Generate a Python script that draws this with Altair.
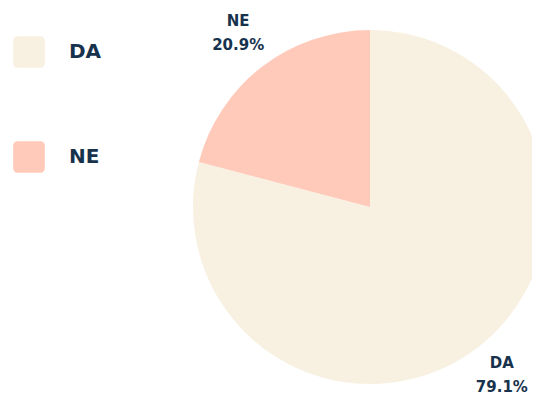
import altair as alt
import pandas as pd

categories = ["DA", "NE"]
values = [79.1, 20.9]
labels = ["DA\n79.1%", "NE\n20.9%"]
colors = ["#F8F1E2", "#FFCABA"]

df = pd.DataFrame({"cat": categories, "val": values, "label": labels, "order": [0, 1]})

rounded = "M -0.7 -1 L 0.7 -1 Q 1 -1 1 -0.7 L 1 0.7 Q 1 1 0.7 1 L -0.7 1 Q -1 1 -1 0.7 L -1 -0.7 Q -1 -1 -0.7 -1 Z"

cx, cy = 362, 199
base = alt.Chart(df).encode(
    theta=alt.Theta("val:Q", stack=True),
    order=alt.Order("order:Q"),
)

arc = base.mark_arc(outerRadius=177, stroke=None).encode(
    x=alt.value(cx), y=alt.value(cy),
    color=alt.Color("cat:N", scale=alt.Scale(domain=categories, range=colors),
                    legend=alt.Legend(title=None, orient="none", legendX=5, legendY=28,
                                      padding=0, symbolType=rounded, symbolSize=1000,
                                      symbolStrokeWidth=0, symbolOpacity=1,
                                      labelFont="DejaVu Sans", labelFontSize=20,
                                      labelFontWeight="bold", labelColor="#17324D",
                                      labelOffset=24, rowPadding=73)),
)

text = base.mark_text(radius=216, dy=-15, font="DejaVu Sans", fontSize=15, fontWeight="bold",
                      color="#17324D", lineBreak="\n", lineHeight=24,
                      align="center", baseline="middle").encode(
    x=alt.value(cx), y=alt.value(cy), text="label:N"
)

chart = alt.layer(arc, text).properties(
    width=524, height=387, autosize=alt.AutoSizeParams(type="none"), padding=0
).configure_view(stroke=None)

chart.save("out.html", embed_options={"renderer": "svg", "actions": False})
